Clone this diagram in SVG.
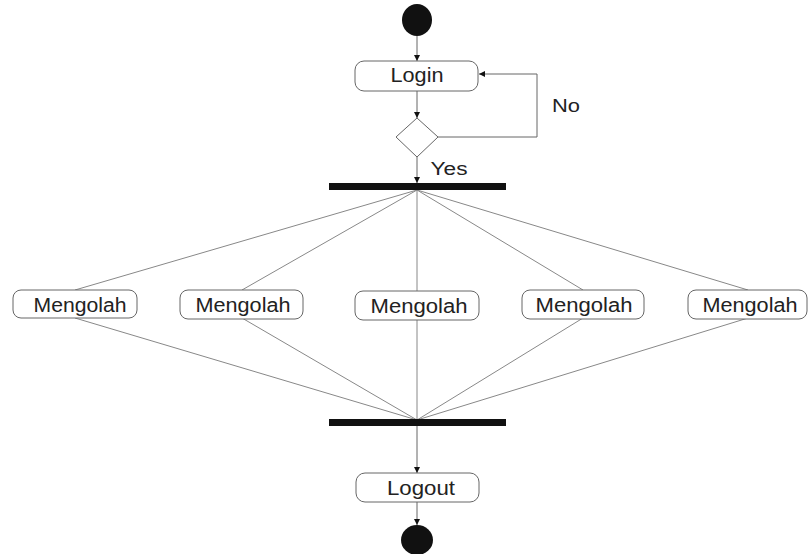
<svg xmlns="http://www.w3.org/2000/svg" width="808" height="554" viewBox="0 0 808 554">
<defs>
<marker id="arr" viewBox="0 0 10 10" refX="10" refY="5" markerWidth="6" markerHeight="6" orient="auto" markerUnits="userSpaceOnUse">
<path d="M0,0 L10,5 L0,10 z" fill="#111"/>
</marker>
<style>
.box{fill:#fff;stroke:#666;stroke-width:1}
.t{font-family:"Liberation Sans",Arial,sans-serif;font-size:19.5px;fill:#222;text-anchor:middle}
.s{font-size:18px}
.c{fill:none;stroke:#888;stroke-width:1}
.a{fill:none;stroke:#666;stroke-width:1;marker-end:url(#arr)}
.bar{fill:#111}
</style>
</defs>
<rect width="808" height="554" fill="#fff"/>
<g id="connectors">
<line class="a" x1="417" y1="36" x2="417" y2="61"/>
<line class="a" x1="417" y1="91" x2="417" y2="118"/>
<polyline class="a" points="438,137 537,137 537,74 479,74"/>
<line class="a" x1="417" y1="157" x2="417" y2="183"/>
<line class="c" x1="417" y1="190" x2="75" y2="290"/>
<line class="c" x1="417" y1="190" x2="242" y2="290"/>
<line class="c" x1="417" y1="190" x2="417" y2="291"/>
<line class="c" x1="417" y1="190" x2="583" y2="290"/>
<line class="c" x1="417" y1="190" x2="748" y2="290"/>
<line class="c" x1="75" y1="318" x2="417" y2="420"/>
<line class="c" x1="242" y1="318" x2="417" y2="420"/>
<line class="c" x1="417" y1="320" x2="417" y2="420"/>
<line class="c" x1="583" y1="318" x2="417" y2="420"/>
<line class="c" x1="748" y1="318" x2="417" y2="420"/>
<line class="a" x1="417" y1="426" x2="417" y2="473"/>
<line class="a" x1="417" y1="502" x2="417" y2="525"/>
<text class="t s" x="566" y="112" textLength="28" lengthAdjust="spacingAndGlyphs">No</text>
<text class="t s" x="449" y="175" textLength="37" lengthAdjust="spacingAndGlyphs">Yes</text>
</g>
<g id="start"><ellipse cx="417" cy="20" rx="15" ry="16" fill="#111"/></g>
<g id="login">
<rect class="box" x="355" y="61" width="123" height="30" rx="9"/>
<text class="t" x="417" y="82" textLength="53" lengthAdjust="spacingAndGlyphs">Login</text>
</g>
<g id="decision"><polygon points="417,118 438,137 417,157 396,137" fill="#fff" stroke="#666"/></g>
<g id="fork"><rect class="bar" x="329" y="183" width="177" height="7"/></g>
<g id="m1">
<rect class="box" x="13" y="290" width="124" height="28" rx="8"/>
<text class="t" x="80" y="312" textLength="93" lengthAdjust="spacingAndGlyphs">Mengolah</text>
</g>
<g id="m2">
<rect class="box" x="180" y="290" width="123" height="29" rx="8"/>
<text class="t" x="243" y="312" textLength="95" lengthAdjust="spacingAndGlyphs">Mengolah</text>
</g>
<g id="m3">
<rect class="box" x="355" y="291" width="124" height="29" rx="8"/>
<text class="t" x="419" y="313" textLength="97" lengthAdjust="spacingAndGlyphs">Mengolah</text>
</g>
<g id="m4">
<rect class="box" x="522" y="290" width="122" height="29" rx="8"/>
<text class="t" x="584" y="312" textLength="97" lengthAdjust="spacingAndGlyphs">Mengolah</text>
</g>
<g id="m5">
<rect class="box" x="688" y="290" width="119" height="29" rx="8"/>
<text class="t" x="750" y="312" textLength="95" lengthAdjust="spacingAndGlyphs">Mengolah</text>
</g>
<g id="join"><rect class="bar" x="329" y="419" width="177" height="7"/></g>
<g id="logout">
<rect class="box" x="356" y="473" width="123" height="29" rx="9"/>
<text class="t" x="421" y="495" textLength="68" lengthAdjust="spacingAndGlyphs">Logout</text>
</g>
<g id="end"><ellipse cx="417" cy="540" rx="16" ry="15" fill="#111"/></g>
</svg>
